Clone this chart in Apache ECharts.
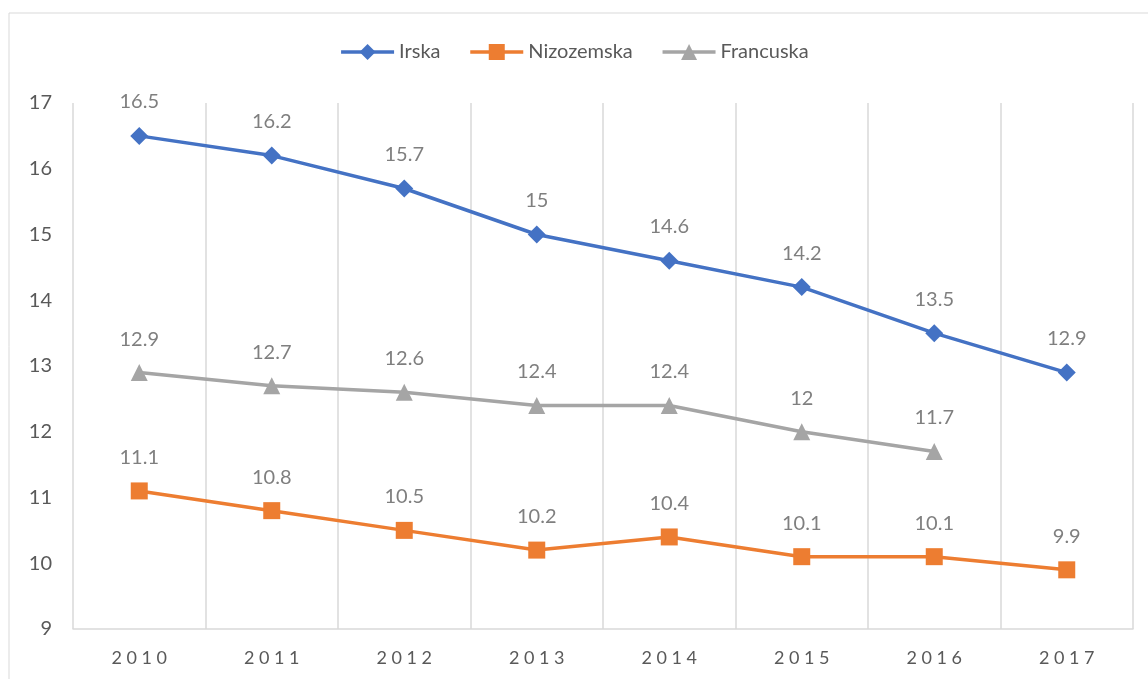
<!DOCTYPE html>
<html lang="hr">
<head>
    <meta charset="UTF-8">
    <title>Irska, Nizozemska, Francuska</title>
    <script src="https://cdn.jsdelivr.net/npm/echarts@6/dist/echarts.min.js"></script>
    <style>
        html, body { margin: 0; padding: 0; background: #fff; }
        #main { width: 1148px; height: 679px; }
    </style>
</head>
<body>
<div id="main"></div>
<script type="text/javascript">
    // podaci
    var years = ['2010', '2011', '2012', '2013', '2014', '2015', '2016', '2017'];
    var irska = [16.5, 16.2, 15.7, 15, 14.6, 14.2, 13.5, 12.9];
    var nizozemska = [11.1, 10.8, 10.5, 10.2, 10.4, 10.1, 10.1, 9.9];
    var francuska = [12.9, 12.7, 12.6, 12.4, 12.4, 12, 11.7, null];

    var font = 'Lato, Liberation Sans, sans-serif';
    var myChart = echarts.init(document.getElementById('main'));

    function makeSeries(name, data, color, symbol, size) {
        return {
            name: name,
            type: 'line',
            data: data,
            symbol: symbol,
            symbolSize: size,
            lineStyle: { color: color, width: 3.5 },
            itemStyle: { color: color },
            label: {
                show: true,
                position: 'top',
                distance: 15,
                color: '#7f7f7f',
                fontSize: 20,
                fontFamily: font
            }
        };
    }

    var option = {
        animation: false,
        textStyle: { fontFamily: font },
        graphic: [{
            type: 'rect',
            shape: { x: 9, y: 13, width: 1160, height: 700 },
            style: { fill: 'none', stroke: '#d9d9d9', lineWidth: 1 },
            silent: true
        }],
        legend: {
            top: 37,
            left: 'center',
            itemWidth: 53,
            itemHeight: 20,
            itemGap: 28,
            lineStyle: { width: 3.5 },
            textStyle: { color: '#595959', fontSize: 20, fontFamily: font },
            data: ['Irska', 'Nizozemska', 'Francuska']
        },
        grid: { left: 73, right: 15, top: 103, bottom: 50 },
        xAxis: {
            type: 'category',
            data: years,
            boundaryGap: true,
            axisLine: { lineStyle: { color: '#d9d9d9', width: 1.5 } },
            axisTick: { show: false },
            axisLabel: {
                color: '#595959',
                fontSize: 18,
                margin: 20,
                formatter: function (v) { return v.split('').join('\u2005'); }
            },
            splitLine: { show: true, interval: 0, lineStyle: { color: '#d9d9d9', width: 1.5 } }
        },
        yAxis: {
            type: 'value',
            min: 9,
            max: 17,
            interval: 1,
            axisLine: { show: false },
            axisTick: { show: false },
            axisLabel: { color: '#595959', fontSize: 20, margin: 21 },
            splitLine: { show: false }
        },
        series: [
            makeSeries('Irska', irska, '#4472c4', 'diamond', 18),
            makeSeries('Nizozemska', nizozemska, '#ed7d31', 'rect', 17),
            makeSeries('Francuska', francuska, '#a5a5a5', 'triangle', 17)
        ]
    };

    myChart.setOption(option);
</script>
</body>
</html>
